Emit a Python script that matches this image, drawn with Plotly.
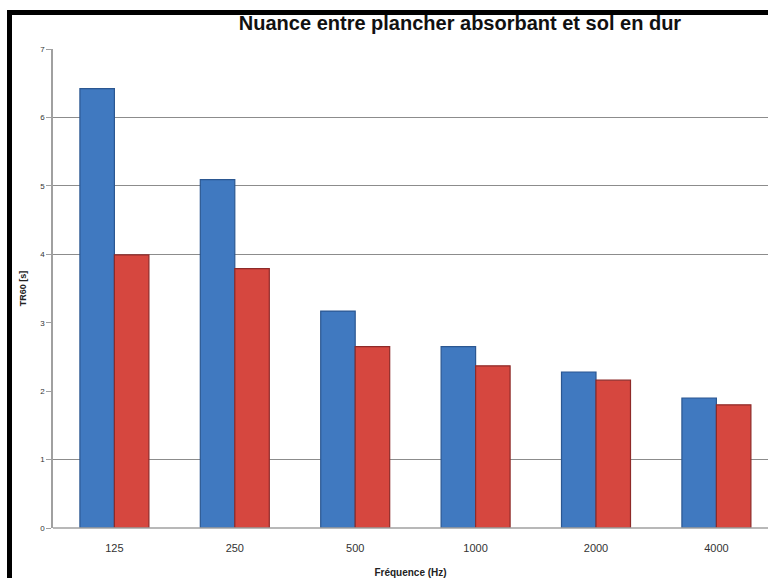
import plotly.graph_objects as go

categories = ["125", "250", "500", "1000", "2000", "4000"]
absorbant = [6.42, 5.09, 3.17, 2.65, 2.28, 1.90]
dur = [3.99, 3.79, 2.65, 2.37, 2.16, 1.80]
ytick_vals = [0, 1, 2, 3, 4, 5, 6, 7]
grid_vals = [1, 4, 5, 6, 7]

PLOT_W = 768 - 53
fig = go.Figure()
fig.add_trace(go.Bar(x=categories, y=absorbant, name="Plancher absorbant",
                     marker=dict(color="#4079c0", line=dict(color="#2b5791", width=1.2))))
fig.add_trace(go.Bar(x=categories, y=dur, name="Sol en dur",
                     marker=dict(color="#d6473f", line=dict(color="#8e2a28", width=1.2))))
# invisible trace on overlay axis carrying the selective gridlines
fig.add_trace(go.Scatter(x=categories, y=[None]*len(categories), yaxis="y2",
                         mode="markers", showlegend=False, hoverinfo="skip"))

fig.update_layout(
    width=768, height=578,
    margin=dict(l=53, r=0, t=49, b=50),
    paper_bgcolor="white", plot_bgcolor="white",
    showlegend=False,
    barmode="group", bargap=0.427, bargroupgap=0,
    title=dict(text="<b>Nuance entre plancher absorbant et sol en dur</b>",
               x=460/768, xanchor="center", y=1-23/578, yanchor="middle",
               font=dict(family="Liberation Sans", size=20, color="#111111")),
    xaxis=dict(range=[-0.51, -0.51 + PLOT_W/120.4], showgrid=False, showline=False, automargin=False,
               ticks="", ticklabelstandoff=12, zeroline=False,
               tickfont=dict(family="Liberation Sans", size=11, color="#333333"),
               title=dict(text="<b>Fréquence (Hz)</b>", standoff=16,
                          font=dict(family="Liberation Sans", size=10, color="#222222"))),
    yaxis=dict(range=[0, 7], tickvals=ytick_vals, showgrid=False, automargin=False,
               showline=True, linecolor="#a0a0a0", linewidth=1.5,
               ticks="outside", ticklen=5, tickcolor="#a0a0a0",
               tickfont=dict(family="Liberation Sans", size=8, color="#333333"),
               title=dict(text="<b>TR60 [s]</b>", standoff=12,
                          font=dict(family="Liberation Sans", size=9, color="#222222")),
               zeroline=False),
    yaxis2=dict(range=[0, 7], overlaying="y", side="left", tickvals=grid_vals, showgrid=True,
                gridcolor="#8c8c8c", gridwidth=1, showticklabels=False, showline=False,
                ticks="", zeroline=False, layer="below traces"),
    shapes=[
        dict(type="line", xref="paper", yref="paper", x0=0, x1=1.05, y0=0, y1=0,
             line=dict(color="#a0a0a0", width=1.5)),
        dict(type="line", xref="paper", yref="paper", x0=(9.5-53)/PLOT_W, x1=1.05,
             y0=(528-12.5)/479, y1=(528-12.5)/479, line=dict(color="black", width=5)),
        dict(type="line", xref="paper", yref="paper", x0=(9.5-53)/PLOT_W, x1=(9.5-53)/PLOT_W,
             y0=(528-10)/479, y1=-0.2, line=dict(color="black", width=5)),
    ],
)
fig.write_html("out.html")
